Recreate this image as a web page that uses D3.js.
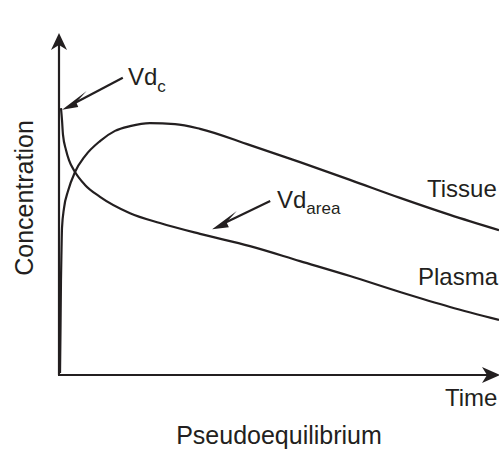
<!DOCTYPE html>
<html>
<head>
<meta charset="utf-8">
<script src="https://cdn.jsdelivr.net/npm/d3@7"></script>
<style>
html,body{margin:0;padding:0;background:#fff;}
svg{display:block;}
text{font-family:"Liberation Sans",Arial,Helvetica,sans-serif;fill:#231f20;}
</style>
</head>
<body>
<svg id="chart" width="499" height="452"></svg>
<script>
// Time (arbitrary units) and concentration (arbitrary units)
const plasmaTime = [0.045,0.068,0.091,0.159,0.227,0.364,0.591,0.932,1.614,2.295,3.205,4.341,5.477,6.614,7.75,8.886,10];
const plasmaConc = [7.85,7.50,7.06,6.62,6.32,5.97,5.59,5.24,4.76,4.47,4.15,3.79,3.35,2.91,2.44,2.0,1.62];
const tissueTime = [0.023,0.034,0.045,0.057,0.068,0.114,0.205,0.364,0.591,0.932,1.273,1.614,2.068,2.636,3.205,4.341,5.477,6.614,7.75,8.886,10];
const tissueConc = [0.06,1.32,2.79,3.68,4.32,4.91,5.41,5.97,6.44,6.88,7.18,7.32,7.41,7.38,7.24,6.76,6.26,5.74,5.21,4.71,4.26];
const seriesNames = ["Tissue","Plasma"];
const xLabel = "Time";
const yLabel = "Concentration";
const bottomLabel = "Pseudoequilibrium";
// annotation anchors in data units: [tailT, tailC, tipT, tipC]
const vdcArrow = [1.45, 8.74, 0.07, 7.80];
const vdAreaArrow = [4.80, 5.12, 3.48, 4.29];

const svg = d3.select("#chart");
const x = d3.scaleLinear().domain([0,10]).range([59,499]);
const y = d3.scaleLinear().domain([0,10]).range([375,35]);
const ink = "#231f20";

const line = d3.line().x(d=>x(d[0])).y(d=>y(d[1])).curve(d3.curveMonotoneX);
const plasma = plasmaTime.map((t,i)=>[t,plasmaConc[i]]);
const tissue = tissueTime.map((t,i)=>[t,tissueConc[i]]);

// axes
svg.append("line").attr("x1",x(0)).attr("y1",y(0)).attr("x2",x(0)).attr("y2",y(10)+10)
  .attr("stroke",ink).attr("stroke-width",2.2);
svg.append("line").attr("x1",x(0)-1).attr("y1",y(0)).attr("x2",x(10)-10).attr("y2",y(0))
  .attr("stroke",ink).attr("stroke-width",2.2);

function head(tx,ty,ang,len,hw,notch){
  const c=Math.cos(ang), s=Math.sin(ang);
  const p=(a,b)=>[tx - a*c + b*(-s)*-1, ty - a*s + b*c];
  const pts=[[tx,ty],p(len,hw),p(len-notch,0),p(len,-hw)];
  return "M"+pts.map(q=>q.join(",")).join("L")+"Z";
}
// y-axis arrowhead (pointing up)
svg.append("path").attr("d",head(x(0),y(10)-2,-Math.PI/2,17,8,5)).attr("fill",ink);
// x-axis arrowhead (pointing right)
svg.append("path").attr("d",head(x(10)+1,y(0),0,18,8,5)).attr("fill",ink);

// curves
svg.append("path").datum(tissue).attr("d",line).attr("fill","none").attr("stroke",ink).attr("stroke-width",2.2);
svg.append("path").datum(plasma).attr("d",line).attr("fill","none").attr("stroke",ink).attr("stroke-width",2.2);

// annotation arrows
function annot(a){
  const x1=x(a[0]), y1=y(a[1]), x2=x(a[2]), y2=y(a[3]);
  const ang=Math.atan2(y2-y1,x2-x1);
  svg.append("line").attr("x1",x1).attr("y1",y1)
    .attr("x2",x2-15*Math.cos(ang)).attr("y2",y2-15*Math.sin(ang))
    .attr("stroke",ink).attr("stroke-width",2.2);
  svg.append("path").attr("d",head(x2,y2,ang,23,9,7)).attr("fill",ink);
}
annot(vdcArrow);
annot(vdAreaArrow);

// labels
const t1 = svg.append("text").attr("x",128).attr("y",85).attr("font-size",24);
t1.append("tspan").text("Vd");
t1.append("tspan").attr("font-size",17).attr("dy",7).text("c");

const t2 = svg.append("text").attr("x",277).attr("y",208).attr("font-size",24);
t2.append("tspan").text("Vd");
t2.append("tspan").attr("font-size",17).attr("dy",6).text("area");

svg.append("text").attr("x",427).attr("y",197).attr("font-size",24).text(seriesNames[0]);
svg.append("text").attr("x",418).attr("y",285).attr("font-size",24).text(seriesNames[1]);
svg.append("text").attr("x",445).attr("y",406).attr("font-size",24).text(xLabel);
svg.append("text").attr("transform","translate(33,198) rotate(-90)").attr("text-anchor","middle")
  .attr("font-size",25).text(yLabel);
svg.append("text").attr("x",279).attr("y",444).attr("text-anchor","middle").attr("font-size",25).text(bottomLabel);
</script>
</body>
</html>
